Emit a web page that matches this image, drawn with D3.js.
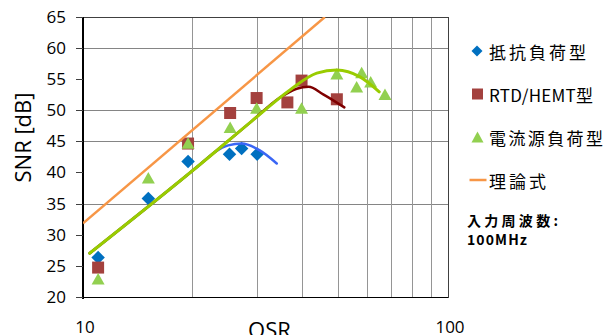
<!DOCTYPE html>
<html><head><meta charset="utf-8">
<script src="https://cdn.jsdelivr.net/npm/d3@7/dist/d3.min.js"></script>
<style>body{margin:0;background:#fff}svg{display:block}</style>
</head><body><svg id="c" width="607" height="335"></svg>
<script>
// ---- data ----
const yTicks = [20,25,30,35,40,45,50,55,60,65];
const yGrid = [35,45,50,60];
const xGrid = [20,30,40,50,60,70,80,90];
const xTickLabels = [10,100];
const resistOSR = [11.0,15.1,19.4,25.2,27.2,30.0];
const resistSNR = [26.4,35.9,41.8,43.0,43.9,43.0];
const rtdOSR = [11.0,19.4,25.3,29.9,36.3,39.7,49.6];
const rtdSNR = [24.8,44.7,49.6,52.0,51.3,54.8,51.8];
const currOSR = [11.0,15.1,19.4,25.3,29.9,39.7,49.6,56.2,58.0,61.4,67.2];
const currSNR = [23.0,39.2,44.8,47.3,50.4,50.4,55.9,53.8,56.1,54.6,52.6];
const theoryOSR = [10,46.0];
const theorySNR = [31.9,65];
const resistFitOSR = [10.43,20.88,23.0,25.0,27.2,30.5,33.95];
const resistFitSNR = [27.1,41.3,43.35,44.4,44.7,43.6,41.5];
const rtdFitOSR = [10.43,20.88,29.0,34.5,38.5,41.5,45.5,52.0];
const rtdFitSNR = [27.1,41.3,48.3,52.0,53.5,53.8,52.6,50.5];
const currFitOSR = [10.43,20.88,29.0,36.9,43.7,49.6,57.4,64.8];
const currFitSNR = [27.1,41.3,48.3,53.3,56.0,56.5,55.4,53.0];
const legendLabels = ["抵抗負荷型","RTD/HEMT型","電流源負荷型","理論式"];
const noteLines = ["入力周波数:","100MHz"];

// ---- chart ----
const svg = d3.select("#c");
const L=83,R=448,T=17,B=297.5;
const x = d3.scaleLog().domain([10,100]).range([L,R]);
const y = d3.scaleLinear().domain([20,65]).range([B,T]);
const numFont = "'Open Sans', sans-serif";
const cjkFont = "'Noto Sans CJK JP', sans-serif";

svg.append("rect").attr("width",607).attr("height",335).attr("fill","#fff");
svg.append("defs").append("clipPath").attr("id","pc").append("rect")
  .attr("x",L).attr("y",T).attr("width",R-L).attr("height",B-T);

const g = svg.append("g").attr("shape-rendering","crispEdges");
g.selectAll(".hg").data(yGrid).join("line")
  .attr("x1",L).attr("x2",R).attr("y1",d=>y(d)).attr("y2",d=>y(d))
  .attr("stroke","#858585").attr("stroke-width",1);
g.selectAll(".vg").data(xGrid).join("line")
  .attr("y1",T).attr("y2",B).attr("x1",d=>x(d)).attr("x2",d=>x(d))
  .attr("stroke","#959595").attr("stroke-width",1);
g.append("rect").attr("x",L).attr("y",T).attr("width",R-L).attr("height",B-T)
  .attr("fill","none").attr("stroke","#404040").attr("stroke-width",1);
g.append("line").attr("x1",L).attr("x2",L).attr("y1",T).attr("y2",B+1).attr("stroke","#000").attr("stroke-width",1.5);
g.append("line").attr("x1",L).attr("x2",R).attr("y1",B).attr("y2",B).attr("stroke","#000").attr("stroke-width",1.5);
g.selectAll(".yt").data(yTicks).join("line")
  .attr("x1",L-7).attr("x2",L).attr("y1",d=>y(d)).attr("y2",d=>y(d))
  .attr("stroke","#404040");

svg.selectAll(".yl").data(yTicks).join("text")
  .attr("x",66).attr("y",d=>y(d)-1).attr("text-anchor","end").attr("dominant-baseline","central")
  .attr("font-family",numFont).attr("font-size",17).attr("fill","#000").text(d=>d);
svg.selectAll(".xl").data(xTickLabels).join("text")
  .attr("x",d=>x(d)+2).attr("y",333).attr("text-anchor","middle")
  .attr("font-family",numFont).attr("font-size",17).attr("fill","#000").text(d=>d);
svg.append("text").attr("x",269.5).attr("y",337.5).attr("text-anchor","middle")
  .attr("font-family",numFont).attr("font-size",22).attr("fill","#000").text("OSR");
svg.append("text").attr("transform","translate(22,137.5) rotate(-90)")
  .attr("text-anchor","middle").attr("dominant-baseline","central")
  .attr("font-family",numFont).attr("font-size",22).attr("fill","#000").text("SNR [dB]");

// marker shapes
const diamond = s => `M0,${-s/2}L${s/2},0L0,${s/2}L${-s/2},0Z`;
const square = s => `M${-s/2},${-s/2}h${s}v${s}h${-s}Z`;
const tri = (w,h) => `M0,${-h/2}L${w/2},${h/2}L${-w/2},${h/2}Z`;
const cDia="#0070C0", cSq="#A3413E", cTri="#92D050", cOr="#F79646";

const pts = (xs,ys)=>xs.map((v,i)=>[v,ys[i]]);
svg.selectAll(".dm").data(pts(resistOSR,resistSNR)).join("path")
  .attr("d",diamond(13.5)).attr("fill",cDia)
  .attr("transform",d=>`translate(${x(d[0])},${y(d[1])})`);
svg.selectAll(".sq").data(pts(rtdOSR,rtdSNR)).join("path")
  .attr("d",square(12)).attr("fill",cSq)
  .attr("transform",d=>`translate(${x(d[0])},${y(d[1])})`);
svg.selectAll(".tr").data(pts(currOSR,currSNR)).join("path")
  .attr("d",tri(13,11.5)).attr("fill",cTri)
  .attr("transform",d=>`translate(${x(d[0])},${y(d[1])})`);

const line = d3.line().x(d=>x(d[0])).y(d=>y(d[1])).curve(d3.curveMonotoneX);
const lg = svg.append("g").attr("fill","none").attr("stroke-linecap","round");
lg.append("path").attr("d",line(pts(resistFitOSR,resistFitSNR))).attr("stroke","#3A66F5").attr("stroke-width",2.5);
lg.append("path").attr("d",line(pts(rtdFitOSR,rtdFitSNR))).attr("stroke","#7F0000").attr("stroke-width",2.5);
lg.append("path").attr("d",line(pts(currFitOSR,currFitSNR))).attr("stroke","#99CC00").attr("stroke-width",3);
lg.append("path").attr("clip-path","url(#pc)").attr("stroke-linecap","butt")
  .attr("d",d3.line().x(d=>x(d[0])).y(d=>y(d[1]))(pts(theoryOSR,theorySNR)))
  .attr("stroke",cOr).attr("stroke-width",2.5);

// legend
const legY = [51,94,137,180];
const legW = [97,104,114,57];
const leg = svg.append("g");
leg.append("path").attr("d",diamond(11)).attr("fill",cDia).attr("transform",`translate(477,${legY[0]})`);
leg.append("path").attr("d",square(11)).attr("fill",cSq).attr("transform",`translate(477.5,${legY[1]})`);
leg.append("path").attr("d",tri(12,11)).attr("fill",cTri).attr("transform",`translate(477.5,${legY[2]})`);
leg.append("line").attr("x1",469.5).attr("x2",486.5).attr("y1",legY[3]).attr("y2",legY[3]).attr("stroke",cOr).attr("stroke-width",2.5);
leg.selectAll("text").data(legendLabels).join("text")
  .attr("x",489).attr("y",(d,i)=>legY[i]).attr("dominant-baseline","central")
  .attr("font-family",cjkFont).attr("font-size",17).attr("fill","#000")
  .attr("textLength",(d,i)=>legW[i]).attr("lengthAdjust","spacing").text(d=>d);

svg.selectAll(".note").data(noteLines).join("text")
  .attr("x",467).attr("y",(d,i)=>[225.5,244.5][i])
  .attr("font-family",cjkFont).attr("font-weight","bold").attr("font-size",14).attr("fill","#000")
  .attr("textLength",(d,i)=>[91,60][i]).attr("lengthAdjust","spacing").text(d=>d);
</script></body></html>
